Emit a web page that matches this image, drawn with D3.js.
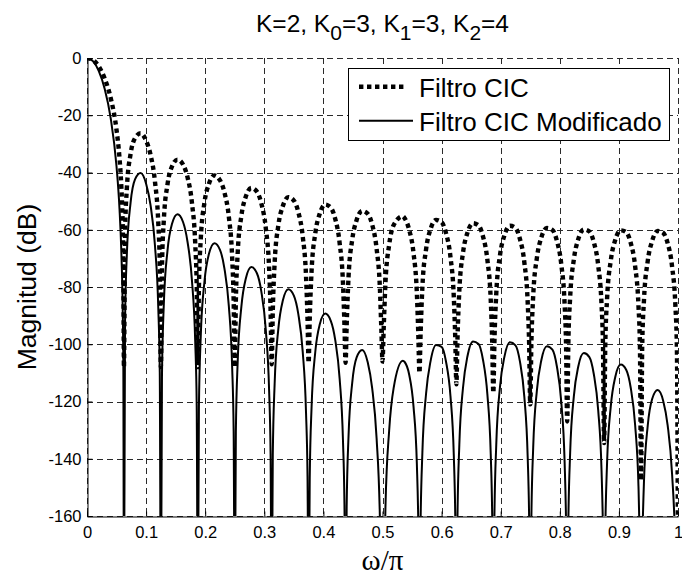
<!DOCTYPE html>
<html><head><meta charset="utf-8">
<script src="https://cdn.jsdelivr.net/npm/d3@7"></script>
<style>body{margin:0;background:#fff}</style>
</head><body>
<svg id="c" width="682" height="576"></svg>
<script>
// ---- data ----
const freq = [
0,0.01,0.02,0.03,0.04,0.05,0.055,0.058,0.0605,0.0615,
0.0625,0.064375,0.0675,0.07375,0.08125,0.090625,0.1,0.1075,0.115,0.120625,0.123125,
0.125,0.126875,0.13,0.13625,0.14375,0.153125,0.1625,0.17,0.1775,0.183125,0.185625,
0.1875,0.189375,0.1925,0.19875,0.20625,0.215625,0.225,0.2325,0.24,0.245625,0.248125,
0.25,0.251875,0.255,0.26125,0.26875,0.278125,0.2875,0.295,0.3025,0.308125,0.310625,
0.3125,0.314375,0.3175,0.32375,0.33125,0.340625,0.35,0.3575,0.365,0.370625,0.373125,
0.375,0.376875,0.38,0.38625,0.39375,0.403125,0.4125,0.42,0.4275,0.433125,0.435625,
0.4375,0.439375,0.4425,0.44875,0.45625,0.465625,0.475,0.4825,0.49,0.495625,0.498125,
0.5,0.501875,0.505,0.51125,0.51875,0.534375,0.5375,0.545,0.5525,0.558125,0.560625,
0.5625,0.564375,0.5675,0.57375,0.58125,0.590625,0.6,0.6075,0.615,0.620625,0.623125,
0.625,0.626875,0.63,0.63625,0.64375,0.653125,0.6625,0.67,0.6775,0.683125,0.685625,
0.6875,0.689375,0.6925,0.69875,0.70625,0.715625,0.725,0.7325,0.74,0.745625,0.748125,
0.75,0.751875,0.755,0.76125,0.76875,0.778125,0.7875,0.795,0.8025,0.808125,0.810625,
0.8125,0.814375,0.8175,0.82375,0.83125,0.840625,0.85,0.8575,0.865,0.870625,0.873125,
0.875,0.876875,0.88,0.88625,0.89375,0.903125,0.9125,0.92,0.9275,0.933125,0.935625,
0.9375,0.939375,0.9425,0.94875,0.95625,0.965625,0.975,0.9825,0.99,0.995625,0.998125,
1
];
const cicDb = [
0,-0.7,-3.0,-7.2,-13.9,-25.2,-35.0,-44.6,-59.2,-71.5,
-108,-61.4,-45.3,-33.5,-28.0,-26.3,-28.9,-33.8,-43.2,-57.7,-72.6,
-108,-73.1,-56.6,-44.1,-37.9,-35.5,-37.2,-41.6,-50.5,-64.8,-79.6,
-108,-79.9,-63.3,-50.5,-44.0,-41.0,-42.7,-46.9,-55.5,-69.7,-84.5,
-108,-84.7,-68.0,-55.1,-48.4,-45.4,-46.7,-50.8,-59.4,-73.4,-88.1,
-107,-88.3,-71.6,-58.5,-51.8,-48.6,-49.8,-53.8,-62.3,-76.3,-91.0,
-106.5,-91.1,-74.4,-61.3,-54.4,-51.2,-52.3,-56.2,-64.7,-78.6,-93.3,
-106.5,-93.4,-76.6,-63.5,-56.6,-53.4,-54.4,-58.2,-66.6,-80.5,-95.2,
-106,-95.3,-78.5,-65.3,-58.4,-55.3,-56.0,-59.9,-68.2,-82.1,-96.7,
-110,-96.8,-80.0,-66.8,-59.8,-56.6,-57.4,-61.2,-69.5,-83.4,-98.0,
-114,-98.1,-81.3,-68.0,-61.0,-57.7,-58.5,-62.3,-70.6,-84.4,-99.1,
-117,-99.1,-82.3,-69.0,-62.0,-58.6,-59.4,-63.2,-71.4,-85.2,-99.9,
-121,-99.9,-83.1,-69.8,-62.7,-59.4,-60.1,-63.8,-72.1,-85.9,-100.5,
-127,-100.5,-83.7,-70.4,-63.3,-59.9,-60.6,-64.3,-72.5,-86.3,-100.9,
-134.5,-100.9,-84.1,-70.8,-63.6,-60.2,-60.9,-64.6,-72.8,-86.6,-101.2,
-147.5,-101.2,-84.3,-71.0,-63.9,-60.4,-61.1,-64.7,-72.9,-86.7,-101.3,
-175
];
const modDb = [
0,-1.1,-4.6,-10.8,-20.9,-38.0,-52.7,-67.1,-89.0,-107.5,
-200,-92.3,-68.2,-50.5,-42.4,-40.2,-43.9,-51.4,-65.5,-87.4,-109.8,
-200,-110.6,-85.9,-67.2,-58.0,-54.6,-57.3,-64.1,-77.5,-99.1,-121.4,
-200,-121.9,-97.1,-78.1,-68.5,-64.7,-67.0,-73.5,-86.7,-108.1,-130.3,
-200,-130.8,-105.9,-86.8,-77.0,-73.0,-75.2,-81.6,-94.9,-116.1,-138.3,
-200,-138.7,-113.8,-94.6,-84.8,-80.8,-83.0,-89.4,-102.6,-124.0,-146.3,
-200,-146.8,-121.9,-102.7,-93.1,-89.3,-91.8,-98.5,-112.1,-133.7,-156.1,
-200,-156.8,-132.2,-113.5,-104.6,-102.0,-106.3,-115.3,-132.8,-161.0,-190.4,
-200,-190.6,-156.9,-130.2,-115.4,-105.8,-106.2,-110.5,-121.8,-141.8,-163.5,
-200,-163.2,-137.7,-117.2,-106.0,-100.3,-100.9,-106.1,-118.1,-138.7,-160.6,
-200,-160.5,-135.1,-115.1,-104.2,-99.0,-99.9,-105.4,-117.6,-138.3,-160.2,
-200,-160.3,-135.0,-115.0,-104.4,-99.3,-100.4,-106.0,-118.4,-139.2,-161.1,
-200,-161.2,-136.0,-116.1,-105.6,-100.7,-101.9,-107.7,-120.2,-141.0,-163.0,
-200,-163.2,-138.0,-118.2,-107.8,-103.1,-104.5,-110.4,-123.1,-144.1,-166.2,
-200,-166.4,-141.3,-121.7,-111.5,-107.1,-109.0,-115.2,-128.3,-149.6,-171.8,
-200,-172.4,-147.5,-128.5,-119.1,-116.0,-119.8,-128.3,-145.4,-173.2,-202.5,
-200
];
const xTicks = [0,0.1,0.2,0.3,0.4,0.5,0.6,0.7,0.8,0.9,1];
const xTickLabels = ["0","0.1","0.2","0.3","0.4","0.5","0.6","0.7","0.8","0.9","1"];
const yTicks = [0,-20,-40,-60,-80,-100,-120,-140,-160];
const yTickLabels = ["0","-20","-40","-60","-80","-100","-120","-140","-160"];
const seriesNames = ["Filtro CIC","Filtro CIC Modificado"];

// ---- layout ----
const L = 87, R = 678, T = 58, B = 516;
const svg = d3.select("#c");
svg.append("rect").attr("width",682).attr("height",576).attr("fill","#fff");
const x = d3.scaleLinear().domain([0,1]).range([L,R]);
const y = d3.scaleLinear().domain([-160,0]).range([B,T]);
const sans = "'Liberation Sans', Arial, sans-serif";

// grid
const grid = svg.append("g").attr("stroke","#2a2a2a").attr("stroke-width",1)
  .attr("stroke-dasharray","6,4").attr("fill","none");
grid.selectAll("line.v").data(xTicks).join("line").attr("class","v")
  .attr("x1",d=>Math.round(x(d))+0.5).attr("x2",d=>Math.round(x(d))+0.5)
  .attr("y1",T).attr("y2",B);
grid.selectAll("line.h").data(yTicks).join("line").attr("class","h")
  .attr("y1",d=>Math.round(y(d))+0.5).attr("y2",d=>Math.round(y(d))+0.5)
  .attr("x1",L).attr("x2",R);

// axes (left & bottom solid)
const xAxis = d3.axisBottom(x).tickValues(xTicks).tickFormat((d,i)=>xTickLabels[i])
  .tickSizeInner(-5).tickSizeOuter(0).tickPadding(10);
const yAxis = d3.axisLeft(y).tickValues(yTicks).tickFormat((d,i)=>yTickLabels[i])
  .tickSizeInner(-5).tickSizeOuter(0).tickPadding(6);
const gx = svg.append("g").attr("transform",`translate(0,${B+0.5})`).call(xAxis);
const gy = svg.append("g").attr("transform",`translate(${L+0.5},0)`).call(yAxis);
[gx,gy].forEach(g=>{
  g.select(".domain").attr("stroke","#000").attr("stroke-width",1);
  g.selectAll(".tick line").attr("stroke","#000");
  g.selectAll(".tick text").attr("font-family",sans).attr("font-size",16.5).attr("fill","#000");
});

// curves
svg.append("clipPath").attr("id","clip").append("rect")
  .attr("x",L).attr("y",T).attr("width",R-L).attr("height",B-T);
const line = (vals) => d3.line().x((d,i)=>x(freq[i])).y(d=>y(d)).curve(d3.curveMonotoneX)(vals);
const plot = svg.append("g").attr("clip-path","url(#clip)");
plot.append("path").attr("d",line(cicDb)).attr("fill","none").attr("stroke","#000")
  .attr("stroke-width",4.4).attr("stroke-dasharray","4.4,3.6");
plot.append("path").attr("d",line(modDb)).attr("fill","none").attr("stroke","#000")
  .attr("stroke-width",2);

// title
const title = svg.append("text").attr("x",(L+R)/2).attr("y",31.5).attr("text-anchor","middle")
  .attr("font-family",sans).attr("font-size",24.5).attr("fill","#000");
const parts = [["K=2, K",0],["0",1],["=3, K",0],["1",1],["=3, K",0],["2",1],["=4",0]];
parts.forEach(([t,sub])=>{
  const ts = title.append("tspan").text(t);
  if (sub) ts.attr("font-size",21).attr("dy",8);
  else if (t!=="K=2, K") ts.attr("dy",-8);
});

// axis labels
svg.append("text").attr("x",(L+R)/2).attr("y",570).attr("text-anchor","middle")
  .attr("font-family","'Liberation Serif', 'Times New Roman', serif").attr("font-size",29)
  .attr("fill","#000").text("ω/π");
svg.append("text").attr("transform",`translate(36,${(T+B)/2}) rotate(-90)`)
  .attr("text-anchor","middle").attr("font-family",sans).attr("font-size",26.5)
  .attr("fill","#000").text("Magnitud (dB)");

// legend
const lg = svg.append("g");
lg.append("rect").attr("x",348.5).attr("y",68.5).attr("width",321).attr("height",72)
  .attr("fill","#fff").attr("stroke","#000").attr("stroke-width",1);
const legY = [86.7,120.7];
lg.append("line").attr("x1",359).attr("x2",407).attr("y1",legY[0]).attr("y2",legY[0])
  .attr("stroke","#000").attr("stroke-width",4.4).attr("stroke-dasharray","4.4,3.6");
lg.append("line").attr("x1",359).attr("x2",413).attr("y1",legY[1]).attr("y2",legY[1])
  .attr("stroke","#000").attr("stroke-width",2);
lg.selectAll("text").data(seriesNames).join("text")
  .attr("x",419).attr("y",(d,i)=>legY[i]+10).attr("font-family",sans)
  .attr("font-size",26).attr("fill","#000").text(d=>d);
</script>
</body></html>
